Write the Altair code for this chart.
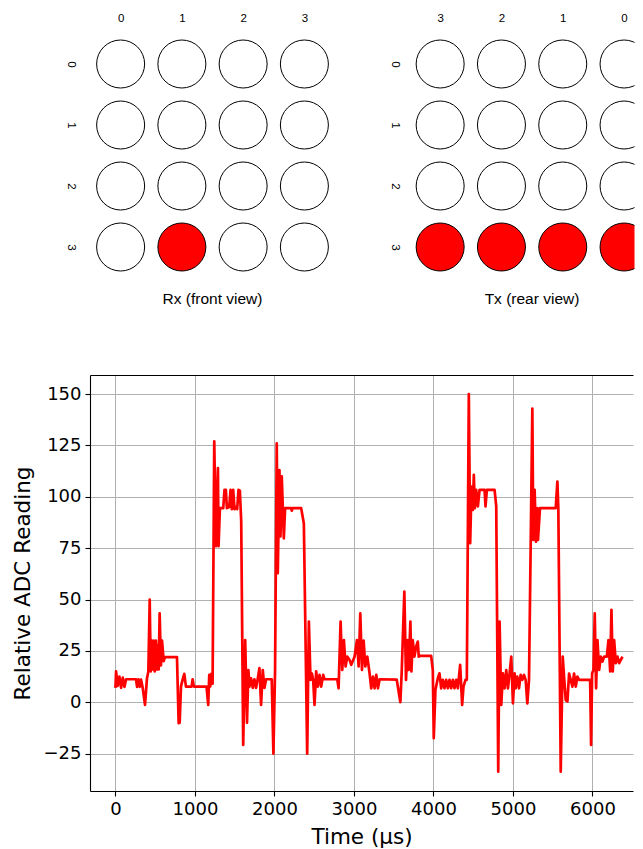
import altair as alt
import pandas as pd

# ---- data -------------------------------------------------------------
time_us = [0, 8, 29, 50, 71, 92, 113, 134, 259, 272, 289, 305, 322, 343, 372, 397, 414, 431,
           444, 456, 469, 481, 494, 510, 523, 536, 544, 556, 573, 586, 607, 623, 774, 795, 808,
           824, 845, 866, 887, 958, 971, 987, 1146, 1167, 1180, 1192, 1209, 1222, 1243, 1264,
           1289, 1297, 1314, 1356, 1372, 1389, 1402, 1431, 1448, 1464, 1481, 1498, 1515, 1531,
           1548, 1565, 1582, 1607, 1632, 1655, 1672, 1685, 1706, 1727, 1748, 1769, 1790, 1811,
           1832, 1853, 1874, 1895, 1966, 1987, 2008, 2029, 2042, 2063, 2076, 2092, 2118, 2134,
           2210, 2218, 2226, 2336, 2370, 2412, 2433, 2454, 2471, 2487, 2504, 2525, 2546, 2567,
           2588, 2613, 2630, 2790, 2807, 2832, 2853, 2874, 2895, 2916, 2945, 2966, 3008, 3038,
           3059, 3080, 3101, 3122, 3143, 3168, 3197, 3218, 3239, 3260, 3281, 3302, 3323, 3538,
           3584, 3601, 3634, 3655, 3676, 3689, 3710, 3723, 3739, 3761, 3782, 3803, 3815, 3832,
           3971, 3992, 4004, 4025, 4055, 4076, 4097, 4118, 4139, 4160, 4181, 4202, 4223, 4244,
           4265, 4286, 4307, 4336, 4361, 4378, 4403, 4420, 4445, 4462, 4479, 4496, 4508, 4521,
           4538, 4559, 4580, 4643, 4655, 4672, 4769, 4790, 4815, 4832, 4853, 4874, 4895, 4916,
           4937, 4958, 4979, 5000, 5021, 5034, 5055, 5076, 5097, 5118, 5139, 5160, 5181, 5202,
           5223, 5244, 5256, 5273, 5290, 5307, 5315, 5340, 5538, 5559, 5571, 5601, 5626, 5643,
           5664, 5685, 5706, 5727, 5748, 5769, 5790, 5811, 5832, 5971, 5983, 5996, 6013, 6029,
           6046, 6063, 6084, 6105, 6126, 6147, 6181, 6202, 6223, 6239, 6256, 6273, 6294, 6315,
           6336, 6378]
adc_reading = [7, 15, 8, 12.5, 7, 12, 7.5, 11.2, 11.2, 7.5, 11.2, 7.5, 11, 7, -1.3, 11.7, 15, 50,
               15, 30, 16, 30, 15, 30, 16, 28, 16, 43.3, 18, 30, 20, 22, 22, -10.2, -10,
               7.6, 11, 13.8, 7.6, 7.6, 11.2, 7.6, 7.6, -1.3, 13.3, 7.6, 14, 9, 127, 76,
               114, 76, 94.5, 94.5, 103.4, 103.4, 94.5, 95, 103.4, 94, 103.4, 94, 95, 94,
               103.4, 103, 88, -20.8, 30.3, -10, 15.7, 7.6, 11.7, 7, 11.2, 7, 11.5, 16.6,
               -1.3, 15.7, 7, 11.2, 11.2, -25, 15.7, 126, 62.8, 113, 80.7, 110, 79.8, 94.5,
               94.5, 93.3, 94.5, 94.5, 87, -25, 39.3, 10.9, 14, 10.9, -1.3, 15, 7.6, 13.3,
               7.6, 13.3, 11.2, 11.2, 6.8, 39.3, 15.7, 30.3, 17.4, 22.2, 20.6, 18.2, 22.2, 30.3,
               17.4, 43.3, 15.7, 30, 17.4, 22.2, 14, 6.8, 12.5, 6.8, 13.3, 6.8, 11.2, 11,
               0, 15, 53.9, 10.9, 30.3, 15.7, 39.3, 15, 30.3, 22.2, 27, 29.5, 22.2, 22.6,
               22.6, 15.7, -17.5, 6, 11.7, 14.1, 6.8, 10.9, 6.8, 10.9, 6.8, 10.9, 6.8, 10.9,
               6.8, 10.9, 6.8, 18.2, -1.3, 7.6, 10.9, 10.9, 150, 77.4, 105, 93.6, 110.7, 94.5,
               103.4, 95.3, 103.4, 103.4, 95.3, 103.4, 103.4, 95.3, -33.8, 39.3, -1.3, 14.1, 6.8, 15.7,
               6.8, 14.1, 22.2, -0.5, 14.1, 6.8, 12.5, 6.8, 13.3, 10.9, 13.3, 10.9, -0.5, 10.9,
               75.8, 143, 79, 103.4, 78.2, 94.5, 79, 94.5, 94.5, 107.4, 94.5, -33.8, 22.2, 12.5,
               1.1, 0.3, 14, 10.9, 7.6, 14, 7.6, 12.5, 10.9, 10.9, -20.8, 14.1, 15.7, 43.3,
               6.8, 30.3, 15.7, 22.2, 19.8, 22.2, 22.2, 30.3, 15, 45, 15, 30.3, 19, 22.2,
               19, 22.2]

grid_rows = [0, 0, 0, 0, 1, 1, 1, 1, 2, 2, 2, 2, 3, 3, 3, 3]
grid_cols = [0, 1, 2, 3, 0, 1, 2, 3, 0, 1, 2, 3, 0, 1, 2, 3]
rx_active = [0, 0, 0, 0, 0, 0, 0, 0, 0, 0, 0, 0, 0, 1, 0, 0]
tx_active = [0, 0, 0, 0, 0, 0, 0, 0, 0, 0, 0, 0, 1, 1, 1, 1]   # columns shown as 3,2,1,0

x_ticks = [0, 1000, 2000, 3000, 4000, 5000, 6000]
y_ticks = [-25, 0, 25, 50, 75, 100, 125, 150]

# ---- styling constants ------------------------------------------------
SANS = "Liberation Sans"
MPL = "DejaVu Sans"
CELL = 61.3
PX_PER_US = 0.0795


def grid_panel(active, title, width, x_max, label_expr, title_dx, row_pad):
    df = pd.DataFrame({"col": grid_cols, "row": grid_rows, "on": active})
    return alt.Chart(df).mark_point(
        shape="circle", filled=True, size=2304, stroke="black", strokeWidth=1,
        opacity=1, clip=True
    ).encode(
        x=alt.X("col:Q",
                scale=alt.Scale(domain=[-0.5, x_max], nice=False, zero=False),
                axis=alt.Axis(orient="top", values=[0, 1, 2, 3], labelExpr=label_expr,
                              ticks=False, domain=False, grid=False, title=None,
                              labelFont=SANS, labelFontSize=11.5, labelColor="black",
                              labelPadding=10)),
        y=alt.Y("row:Q",
                scale=alt.Scale(domain=[3.5, -0.5], nice=False, zero=False),
                axis=alt.Axis(values=[0, 1, 2, 3], ticks=False, domain=False, grid=False,
                              title=None, labelAngle=90, labelAlign="center",
                              labelBaseline="top", labelFont=SANS, labelFontSize=11.5,
                              labelColor="black", labelPadding=row_pad)),
        fill=alt.Fill("on:N", scale=alt.Scale(domain=[0, 1], range=["white", "#ff0000"]),
                      legend=None),
    ).properties(
        width=width, height=244,
        title=alt.TitleParams(title, orient="bottom", anchor="middle", font=SANS,
                              fontSize=15.5, fontWeight="normal", color="black",
                              offset=14, dx=title_dx),
    )


rx = grid_panel(rx_active, "Rx (front view)", 245, 3.5, "datum.value", 0, 14)
tx_width = 225
tx = grid_panel(tx_active, "Tx (rear view)", tx_width, -0.5 + tx_width / CELL,
                "3 - datum.value", 10, 9)

top = alt.hconcat(rx, tx, spacing=53.5)

line_df = pd.DataFrame({"t": time_us, "v": adc_reading})

plot_w = 543
x_scale = alt.Scale(domain=[-320, -320 + plot_w / PX_PER_US], nice=False, zero=False)
y_scale = alt.Scale(domain=[-43.2, 159.3], nice=False, zero=False)

axis_common = dict(labelFont=MPL, labelFontSize=18, labelColor="black",
                   titleFont=MPL, titleFontSize=21.5, titleFontWeight="normal",
                   titleColor="black", tickColor="black", tickSize=5, tickWidth=1.1,
                   domainColor="black", domainWidth=1.1, gridColor="#b0b0b0",
                   gridWidth=1, labelOverlap=False, format="d")

signal = alt.Chart(line_df).mark_line(
    color="#ff0000", strokeWidth=2.7, strokeJoin="round", clip=True
).encode(
    x=alt.X("t:Q", scale=x_scale,
            axis=alt.Axis(values=x_ticks, title="Time (µs)", titlePadding=8,
                          labelPadding=4, labelFlush=False, **axis_common)),
    y=alt.Y("v:Q", scale=y_scale,
            axis=alt.Axis(values=y_ticks, title="Relative ADC Reading", titlePadding=9,
                          labelPadding=4, **axis_common)),
)

top_border = alt.Chart(line_df).mark_line(opacity=0).encode(
    x=alt.X("t:Q", scale=x_scale,
            axis=alt.Axis(orient="top", labels=False, ticks=False, grid=False, title=None,
                          domainColor="black", domainWidth=1.1)),
    y=alt.Y("v:Q", scale=y_scale),
)

bottom = alt.layer(signal, top_border).resolve_axis(x="independent").properties(
    width=plot_w, height=416
)

chart = alt.vconcat(top, bottom, spacing=67.5).properties(
    padding={"left": 4, "top": 4.5, "right": 0, "bottom": 0}
).configure_view(stroke=None)

chart.save("out.html", embed_options={"renderer": "svg", "actions": False})
